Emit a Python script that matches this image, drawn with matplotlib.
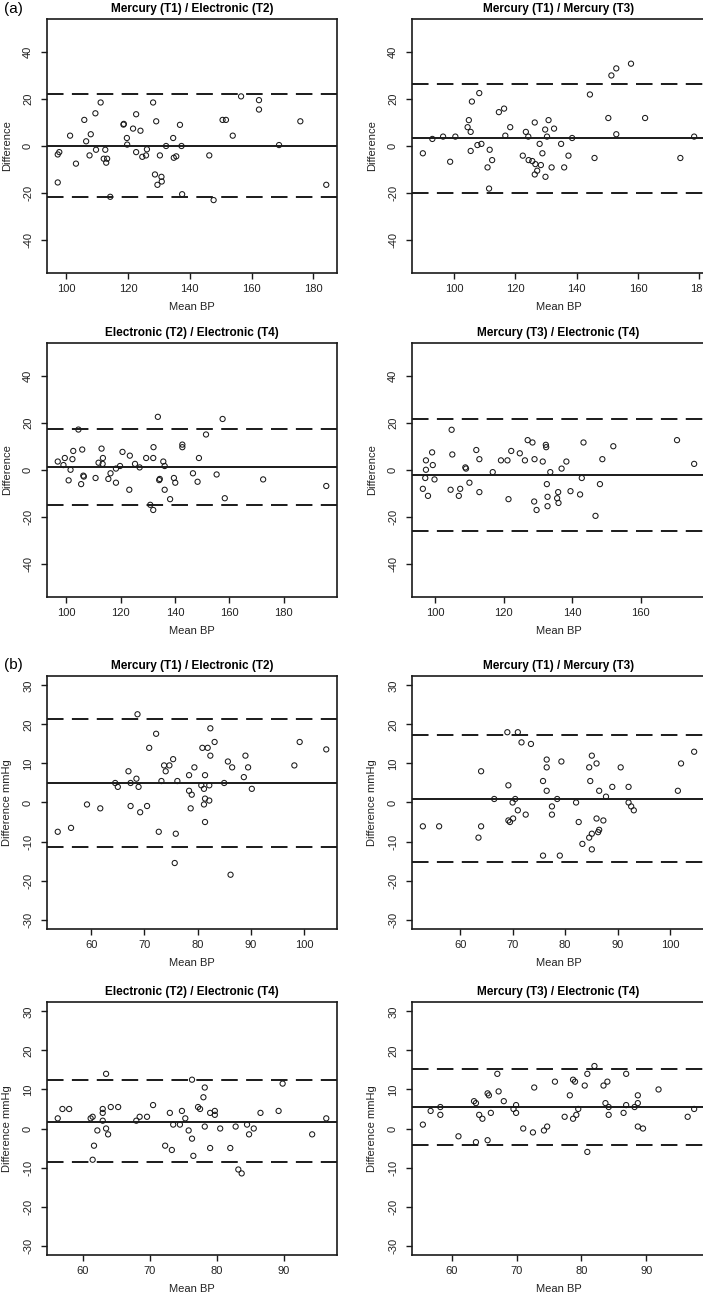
import numpy as np
import matplotlib
matplotlib.use("Agg")
import matplotlib.pyplot as plt

plt.rcParams['font.family'] = ['Liberation Sans', 'DejaVu Sans']

# ---- (a) systolic-ish panels ----
a1_x = [97.2, 97.7, 97.2, 101.2, 103.1, 105.8, 106.4, 107.5, 107.9, 109.4, 109.6, 111.1,
        112.1, 112.6, 112.9, 113.2, 114.2, 118.5, 118.6, 119.6, 119.7, 121.6, 122.6, 122.6,
        124.0, 124.6, 125.8, 126.1, 128.1, 128.7, 129.1, 129.5, 130.3, 130.8, 130.9, 132.3,
        134.6, 134.8, 135.6, 136.8, 137.3, 137.5, 146.3, 147.7, 150.6, 151.7, 153.9, 156.6,
        162.4, 162.4, 168.9, 175.8, 184.2]
a1_y = [-3.6, -2.6, -15.5, 4.4, -7.5, 11.1, 2.0, -4.0, 5.0, 13.9, -1.6, 18.5,
        -5.4, -1.6, -7.1, -5.4, -21.6, 9.1, 9.4, 3.4, 0.6, 7.4, -2.6, 13.5,
        6.5, -4.6, -4.0, -1.4, 18.5, -12.1, 10.5, -16.5, -4.0, -13.1, -15.1, 0.0,
        3.4, -5.0, -4.4, 9.0, 0.0, -20.5, -4.0, -23.0, 11.1, 11.1, 4.4, 21.1,
        19.5, 15.5, 0.4, 10.5, -16.5]
a1_lines = [0.1, -21.5, 21.9]

a2_x = [89.8, 92.9, 96.4, 98.7, 100.4, 104.4, 104.8, 105.4, 105.4, 105.8, 107.6, 108.2,
        108.9, 110.9, 111.4, 111.6, 112.4, 114.6, 116.3, 116.7, 118.3, 122.4, 123.4, 124.2,
        124.3, 125.5, 126.3, 126.5, 126.3, 127.1, 127.9, 128.3, 128.8, 129.7, 130.3, 129.8,
        130.8, 131.8, 132.6, 134.9, 135.9, 137.3, 138.5, 144.3, 145.8, 150.3, 151.3, 152.9,
        152.9, 157.7, 162.3, 173.8, 178.3]
a2_y = [-3.1, 3.0, 4.0, -6.7, 4.0, 8.0, 11.0, 6.0, -2.1, 18.9, 0.4, 22.5,
        0.9, -9.1, -18.1, -1.6, -6.0, 14.4, 15.9, 4.4, 8.0, -4.1, 6.0, 4.0,
        -6.0, -6.4, 10.0, -7.7, -12.1, -10.5, 0.9, -8.1, -3.1, 7.0, 4.0, -13.1,
        11.0, -9.1, 7.4, 0.9, -9.1, -4.1, 3.4, 21.9, -5.1, 11.9, 30.0, 33.0,
        5.0, 35.0, 11.9, -5.1, 4.0]
a2_lines = [3.4, -19.8, 26.5]

a3_x = [96.9, 99.0, 99.5, 100.9, 101.6, 102.3, 102.6, 104.5, 105.5, 105.9, 106.3, 106.5,
        110.8, 111.9, 113.0, 113.5, 113.4, 115.5, 116.3, 118.3, 118.3, 119.8, 120.7, 123.2,
        123.4, 125.3, 127.0, 129.4, 130.9, 132.0, 132.1, 132.0, 133.7, 134.2, 134.4, 135.7,
        136.2, 136.2, 138.2, 139.6, 140.1, 142.7, 142.7, 146.6, 148.3, 148.8, 151.4, 155.3,
        157.5, 158.3, 172.4, 195.6]
a3_y = [3.6, 2.1, 5.1, -4.4, 0.1, 4.6, 8.1, 17.2, -6.0, 8.7, -2.4, -2.8,
        -3.4, 3.1, 9.1, 5.1, 2.6, -3.8, -1.4, 0.6, -5.4, 1.7, 7.7, -8.4,
        6.1, 2.6, 1.1, 5.1, -14.8, 5.1, 9.7, -17.0, 22.6, -4.3, -3.8, 3.6,
        1.7, -8.4, -12.4, -3.4, -5.4, 10.8, 9.7, -1.4, -5.0, 5.1, 15.1, -1.9,
        21.7, -12.0, -4.0, -6.8]
a3_lines = [1.4, -15.0, 17.5]

a4_x = [96.4, 97.1, 97.3, 97.3, 97.9, 99.1, 99.3, 99.8, 104.5, 104.8, 105.0, 106.9,
        107.3, 108.8, 109.0, 110.0, 112.0, 112.9, 112.9, 116.8, 119.2, 121.1, 121.4, 122.2,
        124.7, 126.2, 127.0, 128.4, 128.9, 129.0, 129.6, 131.4, 132.3, 132.4, 132.6, 132.8,
        132.8, 133.6, 135.6, 135.9, 136.0, 136.9, 138.3, 139.5, 142.3, 142.8, 143.3, 146.8,
        148.1, 148.8, 152.0, 170.6, 175.6]
a4_y = [-8.0, -3.4, 4.1, 0.1, -11.0, 7.5, 2.1, -4.0, -8.4, 17.1, 6.6, -11.0,
        -8.0, 1.1, 0.6, -5.4, 8.5, 4.6, -9.4, -0.9, 4.1, 4.1, -12.4, 8.1,
        7.1, 4.1, 12.7, 11.7, -13.4, 4.6, -17.0, 3.6, 10.7, 9.7, -6.0, -11.4,
        -15.4, -0.9, -12.0, -9.4, -14.0, 0.6, 3.6, -9.0, -10.4, -3.4, 11.7, -19.5,
        -6.0, 4.6, 10.1, 12.7, 2.6]
a4_lines = [-2.0, -25.9, 21.8]

# ---- (b) panels ----
b1_x = [53.7, 56.2, 59.2, 61.7, 64.5, 65.0, 67.0, 67.4, 67.4, 68.5, 68.7, 68.9,
        69.2, 70.5, 70.9, 72.2, 72.7, 73.2, 73.7, 74.0, 74.7, 75.4, 75.7, 75.9,
        76.2, 78.4, 78.4, 78.7, 78.9, 79.4, 80.9, 80.7, 81.2, 81.2, 81.4, 81.4,
        81.4, 81.9, 82.2, 82.2, 82.4, 82.4, 83.2, 85.0, 85.7, 86.2, 86.5, 88.7,
        89.0, 89.5, 90.2, 98.2, 99.2, 104.2]
b1_y = [-7.5, -6.5, -0.5, -1.5, 5.0, 4.0, 8.0, 5.0, -0.9, 6.1, 22.6, 4.0,
        -2.5, -0.9, 14.0, 17.6, -7.5, 5.5, 9.5, 8.0, 9.5, 11.1, -15.5, -8.0,
        5.5, 7.0, 3.0, -1.5, 2.0, 9.0, 14.0, 4.4, 3.5, -0.5, 7.0, 1.0,
        -5.0, 14.0, 4.4, 0.5, 19.0, 12.0, 15.5, 5.0, 10.5, -18.5, 9.0, 6.5,
        12.0, 9.0, 3.5, 9.5, 15.5, 13.6]
b1_lines = [4.9, -11.3, 21.3]

b2_x = [52.9, 56.0, 63.5, 64.0, 64.0, 66.5, 69.0, 69.2, 69.2, 69.5, 70.0, 70.1,
        70.5, 71.0, 71.0, 71.7, 72.5, 73.5, 75.8, 75.8, 76.5, 76.5, 76.5, 77.5,
        77.5, 78.5, 79.0, 79.3, 82.1, 82.6, 83.3, 84.6, 84.6, 84.8, 85.1, 85.1,
        85.1, 86.0, 86.0, 86.3, 86.5, 86.5, 87.3, 87.8, 89.0, 90.6, 92.1, 92.1,
        92.6, 93.1, 101.5, 102.1, 104.6]
b2_y = [-6.1, -6.1, -9.0, 8.0, -6.1, 0.9, 18.0, 4.4, -4.6, -5.0, 0.0, -4.1,
        0.9, 18.0, -2.0, 15.4, -3.1, 15.0, 5.5, -13.6, 11.0, 9.0, 3.0, -1.0,
        -3.1, 0.9, -13.6, 10.5, 0.0, -5.0, -10.6, 9.0, -9.0, 5.5, 12.0, -8.0,
        -12.0, 10.0, -4.1, -7.6, -7.0, 3.0, -4.6, 1.5, 4.0, 9.0, 4.0, 0.0,
        -1.0, -2.0, 3.0, 10.0, 13.0]
b2_lines = [1.0, -15.3, 17.4]

b3_x = [56.3, 57.0, 58.0, 61.2, 61.5, 61.5, 61.7, 62.2, 63.0, 63.0, 63.0, 63.5,
        63.5, 63.8, 64.2, 65.3, 68.0, 68.5, 69.6, 70.5, 72.3, 73.0, 73.3, 73.5,
        74.5, 74.8, 75.3, 75.8, 76.3, 76.3, 76.5, 77.2, 77.5, 78.0, 78.2, 78.2,
        79.0, 79.0, 79.7, 79.7, 80.5, 82.0, 82.8, 83.2, 83.7, 84.5, 84.8, 85.5,
        86.5, 89.2, 89.8, 94.2, 96.3]
b3_y = [2.6, 5.0, 5.0, 2.6, 3.0, -8.0, -4.4, -0.5, 5.0, 4.0, 2.0, 0.0,
        14.0, -1.5, 5.5, 5.5, 2.0, 3.0, 3.0, 6.0, -4.4, 4.0, -5.5, 1.0,
        1.0, 4.5, 2.6, -0.5, 12.5, -2.6, -7.0, 5.5, 5.0, 8.0, 10.5, 0.5,
        4.0, -5.0, 4.5, 3.5, 0.0, -5.0, 0.5, -10.5, -11.5, 1.0, -1.5, 0.0,
        4.0, 4.5, 11.5, -1.5, 2.6]
b3_lines = [1.7, -8.7, 12.3]

b4_x = [55.5, 56.7, 58.2, 58.2, 61.0, 63.4, 63.7, 63.7, 64.2, 64.7, 65.5, 65.5,
        65.7, 66.0, 67.0, 67.2, 68.0, 69.5, 69.9, 69.9, 71.0, 72.5, 72.7, 74.2,
        74.7, 75.9, 77.4, 78.2, 78.7, 78.7, 79.0, 79.2, 79.5, 80.5, 80.9, 80.9,
        82.0, 83.4, 83.7, 84.0, 84.2, 84.2, 86.5, 86.9, 86.9, 88.2, 88.7, 88.7,
        88.7, 89.5, 91.9, 96.4, 97.4]
b4_y = [1.0, 4.5, 5.5, 3.5, -2.0, 7.0, 6.5, -3.5, 3.5, 2.5, 9.0, -3.0,
        8.5, 4.0, 14.0, 9.5, 7.0, 5.0, 6.0, 4.0, 0.0, -1.0, 10.5, -0.5,
        0.5, 12.0, 3.0, 8.5, 12.5, 2.5, 12.0, 3.5, 5.0, 11.0, 14.0, -6.0,
        16.0, 11.0, 6.5, 12.0, 5.5, 3.5, 4.0, 14.0, 6.0, 5.5, 8.5, 6.5,
        0.5, 0.0, 10.0, 3.0, 5.0]
b4_lines = [5.5, -4.2, 15.3]

titles = ["Mercury (T1) / Electronic (T2)", "Mercury (T1) / Mercury (T3)",
          "Electronic (T2) / Electronic (T4)", "Mercury (T3) / Electronic (T4)"]

W, H = 703, 1292
fig = plt.figure(figsize=(W / 100, H / 100), dpi=100)

# right column runs past the edge, as in the original
cols = [(47, 337), (412, 705)]
rows = [(19, 273), (343, 597), (676, 929), (1002, 1255)]

panels = [
    (a1_x, a1_y, a1_lines, np.arange(100, 181, 20), [-40, -20, 0, 20, 40], 54, "Difference"),
    (a2_x, a2_y, a2_lines, np.arange(100, 181, 20), [-40, -20, 0, 20, 40], 54, "Difference"),
    (a3_x, a3_y, a3_lines, np.arange(100, 181, 20), [-40, -20, 0, 20, 40], 54, "Difference"),
    (a4_x, a4_y, a4_lines, np.arange(100, 161, 20), [-40, -20, 0, 20, 40], 54, "Difference"),
    (b1_x, b1_y, b1_lines, np.arange(60, 101, 10), np.arange(-30, 31, 10), 32.4, "Difference mmHg"),
    (b2_x, b2_y, b2_lines, np.arange(60, 101, 10), np.arange(-30, 31, 10), 32.4, "Difference mmHg"),
    (b3_x, b3_y, b3_lines, np.arange(60, 91, 10), np.arange(-30, 31, 10), 32.4, "Difference mmHg"),
    (b4_x, b4_y, b4_lines, np.arange(60, 91, 10), np.arange(-30, 31, 10), 32.4, "Difference mmHg"),
]

ink = '#1a1a1a'
for i, (xs, ys, lines, xt, yt, ylim, ylab) in enumerate(panels):
    l, r = cols[i % 2]
    t, b = rows[i // 2]
    ax = fig.add_axes([l / W, 1 - b / H, (r - l) / W, (b - t) / H])
    ax.scatter(xs, ys, s=14, facecolors='none', edgecolors=ink, linewidths=0.75, zorder=3)
    mean, lo, hi = lines
    ax.axhline(mean, color=ink, lw=1.4)
    for v in (lo, hi):
        ax.axhline(v, color=ink, lw=1.4, dashes=(8.5, 4.3))
    # R-style 4% padding on x
    xmin, xmax = min(xs), max(xs)
    pad = 0.04 * (xmax - xmin)
    ax.set_xlim(xmin - pad, xmax + pad)
    ax.set_ylim(-ylim, ylim)
    ax.set_xticks(xt)
    ax.set_yticks(yt)
    ax.set_yticklabels([str(v) for v in yt], rotation=90, va='center')
    ax.tick_params(axis='both', direction='out', length=4, width=1.0, color=ink,
                   labelsize=8, labelcolor='#222222')
    ax.tick_params(axis='x', pad=4)
    ax.tick_params(axis='y', pad=6)
    for sp in ax.spines.values():
        sp.set_color(ink)
        sp.set_linewidth(1.2)
    ax.set_title(titles[i % 4], fontsize=8.5, fontweight='bold', pad=5)
    ax.set_xlabel("Mean BP", fontsize=8, labelpad=6, color='#222222')
    ax.set_ylabel(ylab, fontsize=8, labelpad=8, color='#222222')

fig.text(4 / W, 1 - 9 / H, "(a)", fontsize=11, va='center', ha='left')
fig.text(4 / W, 1 - 665 / H, "(b)", fontsize=11, va='center', ha='left')

fig.savefig("out.png", dpi=100)
